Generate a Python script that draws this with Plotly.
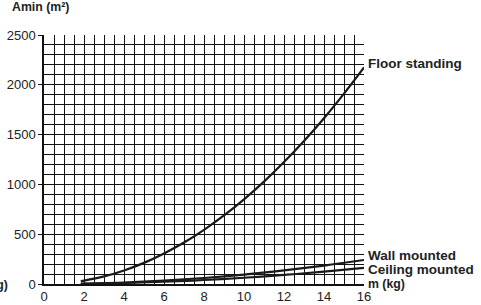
import plotly.graph_objects as go

# Refrigerant charge m (kg) and minimum room area Amin (m²)
m_floor = [1.84, 2, 3, 4, 5, 6, 7, 8, 9, 10, 11, 12, 13, 14, 15, 16]
a_floor = [29, 34, 76, 136, 212, 306, 416, 544, 688, 850, 1028, 1224, 1436, 1665, 1912, 2175]

m_wall = [1.84, 2, 4, 6, 8, 10, 12, 14, 16]
a_wall = [3.2, 3.8, 15, 34, 60, 94, 136, 185, 241]

m_ceiling = [1.84, 2, 4, 6, 8, 10, 12, 14, 16]
a_ceiling = [2.1, 2.5, 10, 23, 40, 63, 91, 124, 162]

x_ticks = [0, 2, 4, 6, 8, 10, 12, 14, 16]
y_ticks = [0, 500, 1000, 1500, 2000, 2500]

fig = go.Figure()
for mx, ay in [(m_floor, a_floor), (m_wall, a_wall), (m_ceiling, a_ceiling)]:
    fig.add_trace(go.Scatter(x=mx, y=ay, mode="lines", line=dict(color="#1a1a1a", width=2.2, shape="spline"),
                             showlegend=False, hoverinfo="skip"))

FAM = "Liberation Sans, Arial, sans-serif"
font = dict(family=FAM, size=13, color="#222")
bold = dict(family=FAM, size=13.5, color="#222", weight="bold")
bold_s = dict(family=FAM, size=12.3, color="#222", weight="bold")

fig.update_layout(
    width=481, height=305,
    margin=dict(l=44, r=117, t=35, b=21, autoexpand=False),
    paper_bgcolor="white", plot_bgcolor="white",
    font=font,
    xaxis=dict(range=[0, 16], tickvals=x_ticks, showgrid=True, gridcolor="#111", gridwidth=1,
               minor=dict(dtick=0.5, showgrid=True, gridcolor="#111", gridwidth=1),
               showline=True, linecolor="#111", linewidth=1.5, ticks="", zeroline=False,
               tickfont=font, automargin=False),
    yaxis=dict(range=[0, 2500], tickvals=y_ticks, showgrid=True, gridcolor="#111", gridwidth=1,
               minor=dict(dtick=100, showgrid=True, gridcolor="#111", gridwidth=1),
               showline=True, linecolor="#111", linewidth=1.5, ticks="outside", ticklen=4,
               tickcolor="#111", zeroline=False, tickfont=font, automargin=False),
    annotations=[
        dict(text="Amin (m²)", xref="paper", yref="paper", x=-0.107, y=1.075, xanchor="left", yanchor="bottom",
             showarrow=False, font=bold_s),
        dict(text="Floor standing", xref="paper", yref="y", x=1.005, y=2210, xanchor="left", yanchor="middle",
             showarrow=False, font=bold),
        dict(text="Wall mounted", xref="paper", yref="y", x=1.005, y=283, xanchor="left", yanchor="middle",
             showarrow=False, font=bold),
        dict(text="Ceiling mounted", xref="paper", yref="y", x=1.005, y=141, xanchor="left", yanchor="middle",
             showarrow=False, font=bold),
        dict(text="m (kg)", xref="paper", yref="y", x=1.005, y=5, xanchor="left", yanchor="middle",
             showarrow=False, font=bold_s),
        dict(text="m (kg)", xref="paper", yref="paper", x=-0.106, y=-0.006, xanchor="right", yanchor="middle",
             showarrow=False, font=bold_s),
    ],
)

fig.write_html("out.html", config={"displayModeBar": False},
               post_script="document.body.style.margin='0';")
